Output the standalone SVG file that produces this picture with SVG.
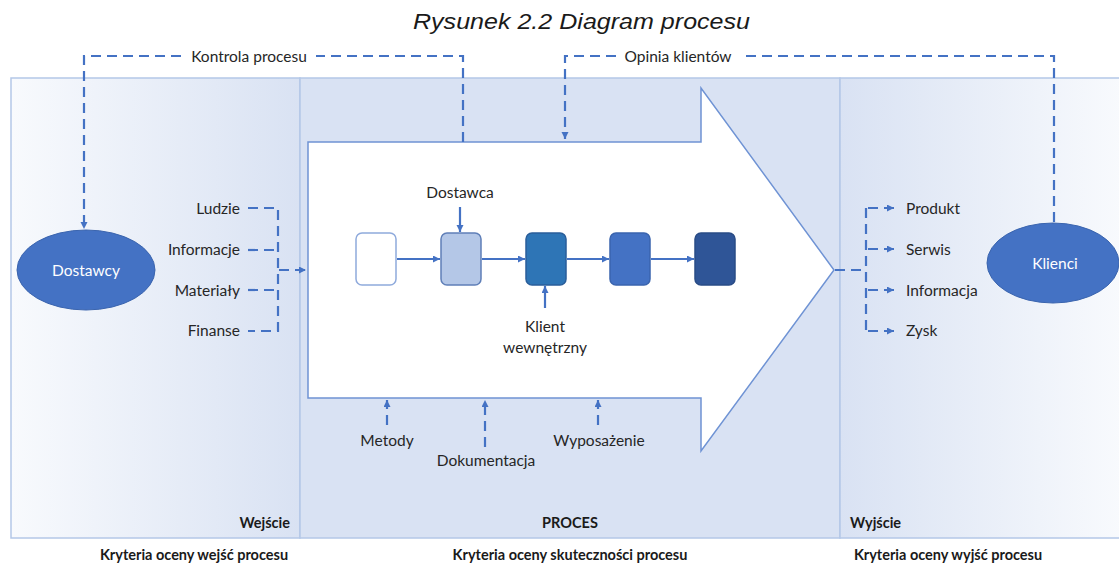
<svg xmlns="http://www.w3.org/2000/svg" width="1119" height="564" viewBox="0 0 1119 564">
<defs>
<linearGradient id="gl" x1="0" y1="0" x2="1" y2="0"><stop offset="0" stop-color="#F8FAFD"/><stop offset="1" stop-color="#D9E2F3"/></linearGradient>
<linearGradient id="gr" x1="0" y1="0" x2="1" y2="0"><stop offset="0" stop-color="#D9E2F3"/><stop offset="1" stop-color="#F8FAFD"/></linearGradient>
<marker id="ah" markerUnits="userSpaceOnUse" markerWidth="8" markerHeight="8" refX="7" refY="3.5" orient="auto"><path d="M0,0 L7,3.5 L0,7 z" fill="#4472C4"/></marker>
<style>
.t{font-family:Lato,"Open Sans","Liberation Sans",sans-serif;font-size:15.5px;fill:#262626}
.b{font-family:Lato,"Open Sans","Liberation Sans",sans-serif;font-size:14.5px;font-weight:bold;fill:#1a1a1a}
.w{font-family:Lato,"Open Sans","Liberation Sans",sans-serif;font-size:15.5px;fill:#ffffff}
.d{fill:none;stroke:#4472C4;stroke-width:2.2;stroke-dasharray:10 6}
.s{fill:none;stroke:#4472C4;stroke-width:2.2}
.box{stroke-width:1.5}
</style>
</defs>
<text x="413" y="29" textLength="337" lengthAdjust="spacingAndGlyphs" font-family="Liberation Sans, Arial, sans-serif" font-style="italic" font-size="22" fill="#1a1a1a">Rysunek 2.2 Diagram procesu</text>
<g id="panels">
<rect x="11" y="78" width="289" height="460" fill="url(#gl)" stroke="#B4C7E7" stroke-width="1.5"/>
<rect x="300" y="78" width="540" height="460" fill="#D9E2F3" stroke="#B4C7E7" stroke-width="1.5"/>
<rect x="840" y="78" width="281" height="460" fill="url(#gr)" stroke="#B4C7E7" stroke-width="1.5"/>
<text class="b" x="290" y="528" text-anchor="end">Wejście</text>
<text class="b" x="570" y="528" text-anchor="middle">PROCES</text>
<text class="b" x="850" y="528">Wyjście</text>
<text class="b" x="194" y="560" text-anchor="middle">Kryteria oceny wejść procesu</text>
<text class="b" x="570" y="560" text-anchor="middle">Kryteria oceny skuteczności procesu</text>
<text class="b" x="948" y="560" text-anchor="middle">Kryteria oceny wyjść procesu</text>
</g>
<g id="process-arrow">
<polygon points="308,142 701,142 701,88 834,270 701,451 701,398 308,398" fill="#ffffff" stroke="#6F93D4" stroke-width="1.5" stroke-linejoin="miter"/>
</g>
<g id="dostawcy">
<ellipse cx="86" cy="270" rx="69" ry="40" fill="#4472C4" stroke="#3A64AE" stroke-width="1"/>
<text class="w" x="86" y="276" text-anchor="middle">Dostawcy</text>
</g>
<g id="klienci">
<ellipse cx="1053" cy="263" rx="66" ry="40" fill="#4472C4" stroke="#3A64AE" stroke-width="1"/>
<text class="w" x="1055" y="269" text-anchor="middle">Klienci</text>
</g>
<g id="box1"><rect class="box" x="356" y="233" width="40" height="52" rx="6" fill="#ffffff" stroke="#8FAADC"/></g>
<g id="box2"><rect class="box" x="441" y="233" width="40" height="52" rx="6" fill="#B4C7E7" stroke="#5F7FB8"/></g>
<g id="box3"><rect class="box" x="526" y="233" width="40" height="52" rx="6" fill="#2E75B6" stroke="#2A5E9A"/></g>
<g id="box4"><rect class="box" x="610" y="233" width="40" height="52" rx="6" fill="#4472C4" stroke="#3A64AE"/></g>
<g id="box5"><rect class="box" x="695" y="233" width="40" height="52" rx="6" fill="#2F5597" stroke="#2A4C86"/></g>
<g id="labels">
<text class="t" x="240" y="214" text-anchor="end">Ludzie</text>
<text class="t" x="240" y="255" text-anchor="end">Informacje</text>
<text class="t" x="240" y="296" text-anchor="end">Materiały</text>
<text class="t" x="240" y="336" text-anchor="end">Finanse</text>
<text class="t" x="906" y="214">Produkt</text>
<text class="t" x="906" y="255">Serwis</text>
<text class="t" x="906" y="296">Informacja</text>
<text class="t" x="906" y="336">Zysk</text>
<text class="t" x="460" y="198" text-anchor="middle">Dostawca</text>
<text class="t" x="545" y="332" text-anchor="middle">Klient</text>
<text class="t" x="545" y="353" text-anchor="middle">wewnętrzny</text>
<text class="t" x="387" y="446" text-anchor="middle">Metody</text>
<text class="t" x="486" y="466" text-anchor="middle">Dokumentacja</text>
<text class="t" x="599" y="446" text-anchor="middle">Wyposażenie</text>
<text class="t" x="249" y="62" text-anchor="middle">Kontrola procesu</text>
<text class="t" x="678" y="62" text-anchor="middle">Opinia klientów</text>
</g>
<g id="connectors">
<path class="d" d="M463,142 V56 H316"/>
<path class="d" d="M181,56 H84 V229" marker-end="url(#ah)"/>
<path class="d" d="M1054,222 V56 H740"/>
<path class="d" d="M616,56 H565 V139" marker-end="url(#ah)"/>
<path class="d" d="M248,208 H278 V331 H248"/>
<path class="d" d="M248,250 H278"/>
<path class="d" d="M248,290 H278"/>
<path class="d" d="M279,270 H306" marker-end="url(#ah)"/>
<path class="d" d="M835,270 H866"/>
<path class="d" d="M866,208 V331"/>
<path class="d" d="M868,208 H894" marker-end="url(#ah)"/>
<path class="d" d="M868,249 H894" marker-end="url(#ah)"/>
<path class="d" d="M868,290 H894" marker-end="url(#ah)"/>
<path class="d" d="M868,331 H894" marker-end="url(#ah)"/>
<path class="d" d="M387,425 V400" marker-end="url(#ah)"/>
<path class="d" d="M485,447 V400" marker-end="url(#ah)"/>
<path class="d" d="M598,425 V400" marker-end="url(#ah)"/>
<path class="s" d="M460,207 V232" marker-end="url(#ah)"/>
<path class="s" d="M545,308 V286" marker-end="url(#ah)"/>
<path class="s" d="M397,259 H440" marker-end="url(#ah)"/>
<path class="s" d="M482,259 H525" marker-end="url(#ah)"/>
<path class="s" d="M567,259 H609" marker-end="url(#ah)"/>
<path class="s" d="M651,259 H694" marker-end="url(#ah)"/>
</g>
</svg>
